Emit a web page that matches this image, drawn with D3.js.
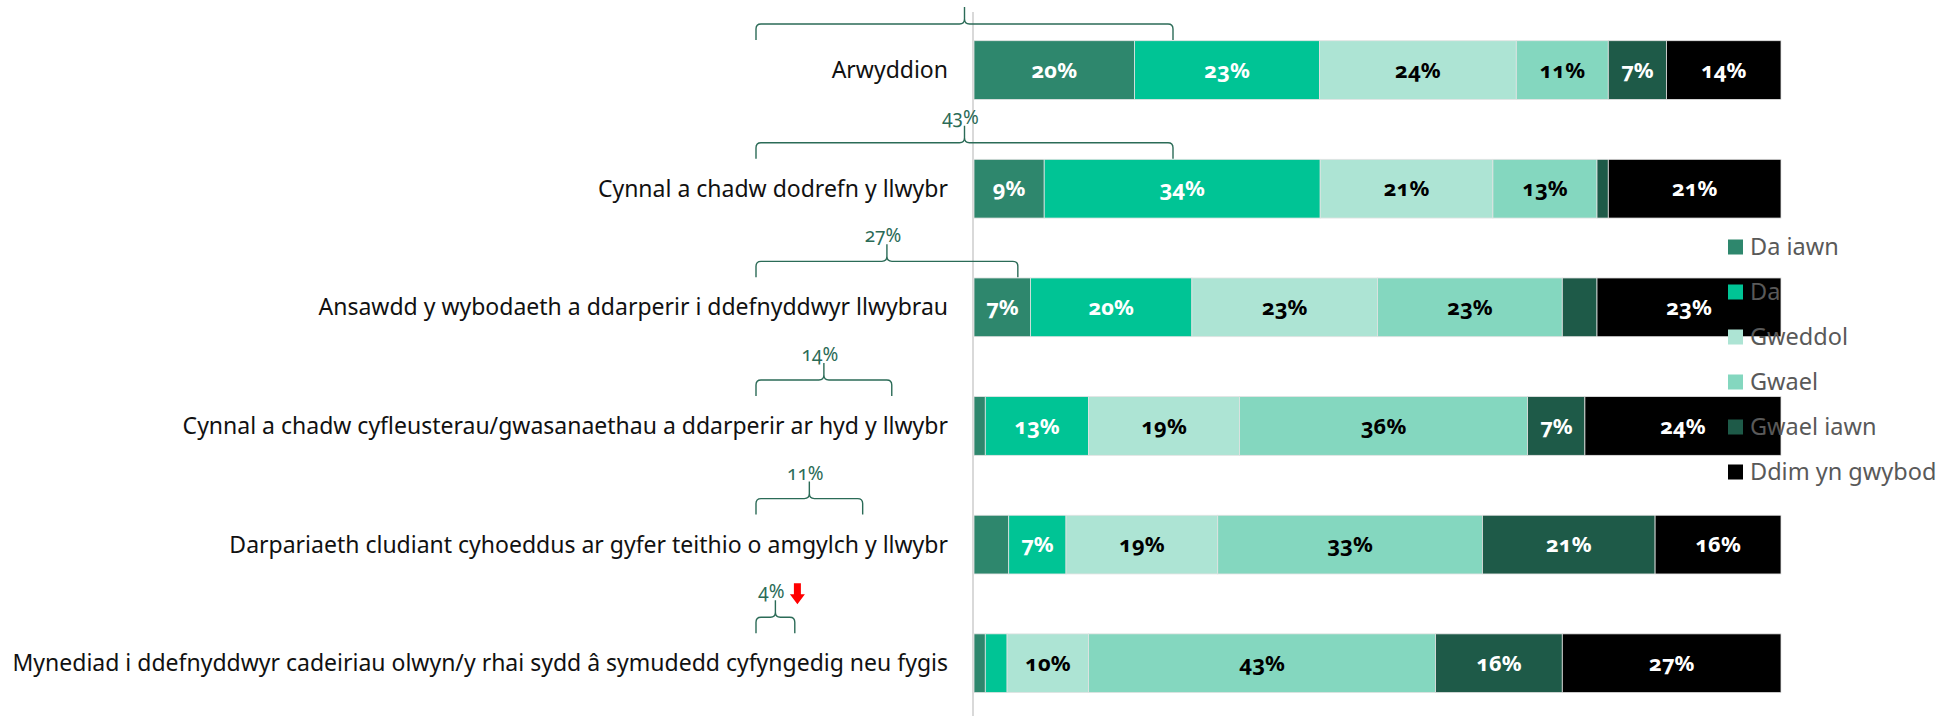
<!DOCTYPE html>
<meta charset="utf-8">
<script src="https://d3js.org/d3.v7.min.js"></script>
<style>
  body { margin: 0; background: #fff; }
  text { font-family: "Noto Sans", "Open Sans", sans-serif; font-variant-numeric: oldstyle-nums; }
</style>
<body>
<div id="my_dataviz"></div>
<script>

  // categories (top to bottom)
  var categories = [
    "Arwyddion",
    "Cynnal a chadw dodrefn y llwybr",
    "Ansawdd y wybodaeth a ddarperir i ddefnyddwyr llwybrau",
    "Cynnal a chadw cyfleusterau/gwasanaethau a ddarperir ar hyd y llwybr",
    "Darpariaeth cludiant cyhoeddus ar gyfer teithio o amgylch y llwybr",
    "Mynediad i ddefnyddwyr cadeiriau olwyn/y rhai sydd \u00e2 symudedd cyfyngedig neu fygis"
  ];

  // series names (legend order)
  var seriesNames = ["Da iawn", "Da", "Gweddol", "Gwael", "Gwael iawn", "Ddim yn gwybod"];
  var seriesColors = ["#2e876d", "#00c495", "#ade4d4", "#84d7bf", "#1e5a48", "#000000"];
  var labelColors = ["#fff", "#fff", "#000", "#000", "#fff", "#fff"];

  // values per series, one per category (percent)
  var daIawn = [19.9, 8.7, 7.0, 1.4, 4.3, 1.4];
  var da = [22.9, 34.2, 20.0, 12.8, 7.1, 2.7];
  var gweddol = [24.4, 21.4, 23.0, 18.7, 18.8, 10.1];
  var gwael = [11.4, 12.9, 22.9, 35.7, 32.8, 43.0];
  var gwaelIawn = [7.2, 1.4, 4.3, 7.1, 21.4, 15.7];
  var ddimYnGwybod = [14.2, 21.4, 22.8, 24.3, 15.6, 27.1];

  // "good" total shown over the brackets (first one is off the top of the picture)
  var netGood = [43, 43, 27, 14, 11, 4];
  var netLabels = [null, "43%", "27%", "14%", "11%", "4%"];
  var trendDown = [false, false, false, false, false, true];

  var allSeries = [daIawn, da, gweddol, gwael, gwaelIawn, ddimYnGwybod];

  var width = 1936, height = 716;

  var svg = d3.select("#my_dataviz")
    .append("svg")
    .attr("width", width)
    .attr("height", height);

  // scales
  var x = d3.scaleLinear().domain([0, 100]).range([974, 1781]);
  var y = d3.scaleBand().domain(categories).range([40.7, 692.6]).paddingInner(0.505);
  var xb = d3.scaleLinear().domain([0, 43]).range([756, 1173]);

  // build stacked rows
  var rows = categories.map(function (c, i) {
    var obj = { cat: c };
    seriesNames.forEach(function (s, j) { obj[s] = allSeries[j][i]; });
    return obj;
  });
  var stacked = d3.stack().keys(seriesNames)(rows);

  // axis line
  svg.append("line")
    .attr("x1", x(0) - 1).attr("x2", x(0) - 1)
    .attr("y1", 12).attr("y2", height)
    .attr("stroke", "#d9d9d9")
    .attr("stroke-width", 2);

  // category labels
  svg.selectAll(".cat")
    .data(categories)
    .enter()
    .append("text")
    .attr("class", "cat")
    .attr("x", 948)
    .attr("y", function (d) { return y(d) + y.bandwidth() / 2; })
    .attr("dy", "0.35em")
    .attr("text-anchor", "end")
    .style("font-size", "23px")
    .style("fill", "#111")
    .text(function (d) { return d; });

  // bars
  var layer = svg.selectAll(".layer")
    .data(stacked)
    .enter()
    .append("g")
    .attr("class", "layer")
    .attr("fill", function (d, i) { return seriesColors[i]; });

  layer.selectAll("rect")
    .data(function (d) { return d; })
    .enter()
    .append("rect")
    .attr("x", function (d) { return x(d[0]); })
    .attr("y", function (d) { return y(d.data.cat); })
    .attr("width", function (d) { return x(d[1]) - x(d[0]); })
    .attr("height", y.bandwidth())
    .attr("stroke", "#e3e3e3")
    .attr("stroke-width", 0.8);

  // segment labels
  stacked.forEach(function (s, i) {
    svg.append("g").selectAll("text")
      .data(s.filter(function (d) { return d[1] - d[0] >= 5; }))
      .enter()
      .append("text")
      .attr("x", function (d) { return (x(d[0]) + x(d[1])) / 2; })
      .attr("y", function (d) { return y(d.data.cat) + y.bandwidth() / 2; })
      .attr("dy", "0.35em")
      .attr("text-anchor", "middle")
      .style("font-size", "22px")
      .style("font-weight", "bold")
      .style("fill", labelColors[i])
      .text(function (d) { return Math.round(d[1] - d[0]) + "%"; });
  });

  // brackets over the labels
  var green = "#2b6b57";
  categories.forEach(function (c, i) {
    var cy = y(c) + y.bandwidth() / 2;
    var x0 = xb(0), x1 = xb(netGood[i]), xm = (x0 + x1) / 2;
    var yH = cy - 46, yLeg = cy - 30, yPeak = cy - 63, r = 5;
    var p = d3.path();
    p.moveTo(x0, yLeg);
    p.lineTo(x0, yH + r);
    p.quadraticCurveTo(x0, yH, x0 + r, yH);
    p.lineTo(xm - r, yH);
    p.quadraticCurveTo(xm, yH, xm, yH - r);
    p.lineTo(xm, yPeak);
    p.moveTo(xm, yH - r);
    p.quadraticCurveTo(xm, yH, xm + r, yH);
    p.lineTo(x1 - r, yH);
    p.quadraticCurveTo(x1, yH, x1, yH + r);
    p.lineTo(x1, yLeg);
    svg.append("path")
      .attr("d", p.toString())
      .attr("fill", "none")
      .attr("stroke", green)
      .attr("stroke-width", 1.4);

    if (netLabels[i]) {
      svg.append("text")
        .attr("x", xm - 4)
        .attr("y", cy - 65)
        .attr("text-anchor", "middle")
        .style("font-size", "19px")
        .style("fill", green)
        .text(netLabels[i]);
    }

    if (trendDown[i]) {
      var ax = xm + 22, at = cy - 80, ab = cy - 59;
      svg.append("path")
        .attr("d", "M" + (ax - 3.5) + "," + at + "H" + (ax + 3.5) + "V" + (ab - 10) +
          "H" + (ax + 7.5) + "L" + ax + "," + ab + "L" + (ax - 7.5) + "," + (ab - 10) +
          "H" + (ax - 3.5) + "Z")
        .attr("fill", "#ff0000");
    }
  });

  // legend (drawn on top of the bars)
  var legend = svg.selectAll(".legend")
    .data(seriesNames)
    .enter()
    .append("g")
    .attr("class", "legend")
    .attr("transform", function (d, i) { return "translate(1728," + (247 + i * 45) + ")"; });

  legend.append("rect")
    .attr("x", 0).attr("y", -7.5)
    .attr("width", 15).attr("height", 15)
    .attr("fill", function (d, i) { return seriesColors[i]; });

  legend.append("text")
    .attr("x", 22)
    .attr("dy", "0.35em")
    .style("font-size", "23.5px")
    .style("fill", "#595959")
    .text(function (d) { return d; });

</script>
</body>
